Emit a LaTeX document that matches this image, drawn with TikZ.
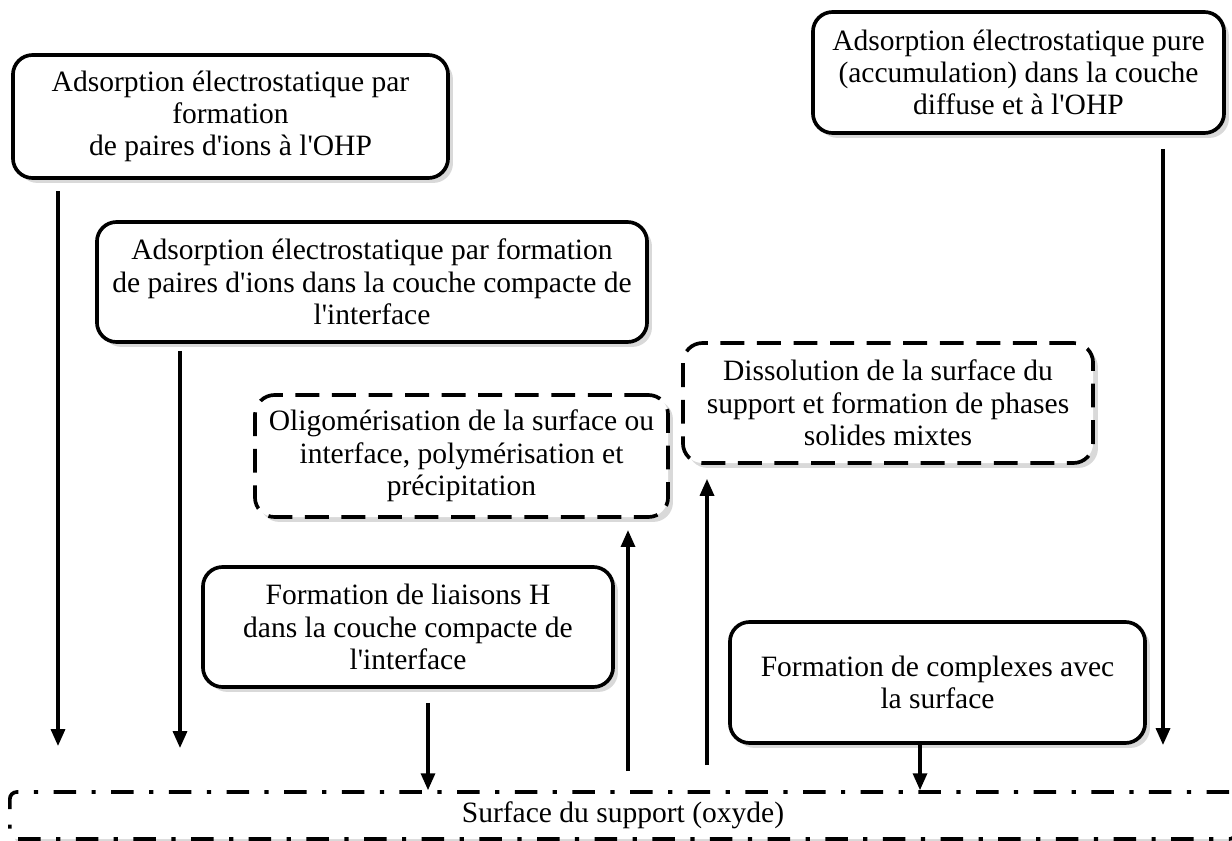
\documentclass[tikz,border=0pt]{standalone}
\usepackage{fontspec}
\setmainfont{Liberation Serif}[Ligatures=TeXOff]
\usetikzlibrary{positioning,arrows.meta,shadows,calc}

\tikzset{
	proc/.style={draw, line width=2.6pt, rounded corners=14pt, fill=white, align=center,
		inner sep=0pt, font=\fontsize{21}{23}\selectfont,
		drop shadow={shadow xshift=3.5pt, shadow yshift=-3.5pt, fill=gray!30, opacity=1}},
	procdash/.style={proc, dash pattern=on 17pt off 9pt},
	surf/.style={proc, rounded corners=5pt, dash pattern=on 16pt off 11pt on 3pt off 11pt},
	fl/.style={-{Triangle[length=12pt,width=10pt]}, line width=2.2pt},
}

\begin{document}
\begin{tikzpicture}[x=0.025cm,y=-0.025cm]
	\useasboundingbox (0,0) rectangle (1232,841);
	
	% boxes
	\node[proc, minimum width=10.875cm, minimum height=3.075cm] (ohp) at (230.5,116.5)
	{Adsorption électrostatique par\\ formation\\ de paires d'ions à l'OHP};
	\node[proc, minimum width=10.275cm, minimum height=3.025cm] (pure) at (1018.5,72.5)
	{Adsorption électrostatique pure\\ (accumulation) dans la couche\\ diffuse et à l'OHP};
	\node[proc, minimum width=13.75cm, minimum height=3cm] (compact) at (372,282)
	{Adsorption électrostatique par formation\\ de paires d'ions dans la couche compacte de\\ l'interface};
	\node[procdash, minimum width=10.325cm, minimum height=3.05cm] (oligo) at (461.5,456)
	{Oligomérisation de la surface ou\\ interface, polymérisation et\\ précipitation};
	\node[procdash, minimum width=10.25cm, minimum height=3cm] (dissol) at (888,403)
	{Dissolution de la surface du\\ support et formation de phases\\ solides mixtes};
	\node[proc, minimum width=10.25cm, minimum height=3cm] (liaisonH) at (408,627)
	{Formation de liaisons H\\ dans la couche compacte de\\ l'interface};
	\node[proc, minimum width=10.375cm, minimum height=3.025cm] (complexe) at (937.5,682.5)
	{Formation de complexes avec\\ la surface};
	
	% surface du support
	\node[surf, minimum width=30.65cm, minimum height=1.175cm] (support) at (623,815.5)
	{Surface du support (oxyde)};
	
	% free ends
	\coordinate (e1) at (58,746);
	\coordinate (e2) at (180,748);
	\coordinate (e3) at (428,0);
	\coordinate (e4) at (628,771);
	\coordinate (e5) at (707,765);
	\coordinate (e6) at (920,0);
	\coordinate (e7) at (1163,745);
	
	% arrows
	\draw[fl, shorten <=8pt] (ohp.south -| e1) -- (e1);
	\draw[fl, shorten <=5pt] (compact.south -| e2) -- (e2);
	\draw[fl, shorten <=10pt] (pure.south -| e7) -- (e7);
	\draw[fl, shorten <=10pt] (liaisonH.south -| e3) -- (e3 |- support.north);
	\draw[fl] (complexe.south -| e6) -- (e6 |- support.north);
	\draw[fl, shorten >=8pt] (e4) -- (e4 |- oligo.south);
	\draw[fl, shorten >=10pt] (e5) -- (e5 |- dissol.south);
	
\end{tikzpicture}
\end{document}
